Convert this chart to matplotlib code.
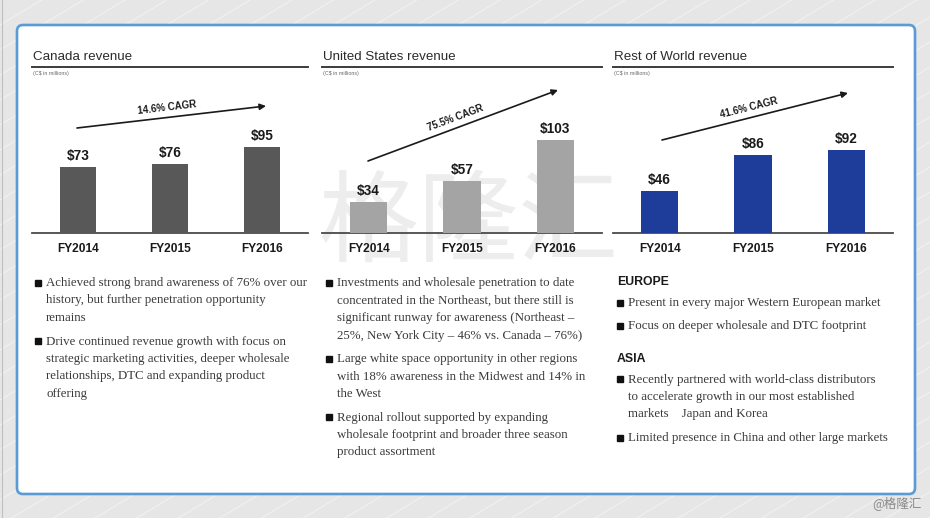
import matplotlib.pyplot as plt
import numpy as np
from matplotlib.patches import FancyBboxPatch

plt.rcParams['font.family'] = ['Liberation Sans', 'DejaVu Sans']

# data
years = ["FY2014", "FY2015", "FY2016"]
canada_revenue = [73, 76, 95]
us_revenue = [34, 57, 103]
row_revenue = [46, 86, 92]

titles = ["Canada revenue", "United States revenue", "Rest of World revenue"]
cagr_labels = ["14.6% CAGR", "75.5% CAGR", "41.6% CAGR"]
unit_note = "(C$ in millions)"

canada_bullets = [
    ["Achieved strong brand awareness of 76% over our",
     "history, but further penetration opportunity",
     "remains"],
    ["Drive continued revenue growth with focus on",
     "strategic marketing activities, deeper wholesale",
     "relationships, DTC and expanding product",
     "offering"],
]
us_bullets = [
    ["Investments and wholesale penetration to date",
     "concentrated in the Northeast, but there still is",
     "significant runway for awareness (Northeast –",
     "25%, New York City – 46% vs. Canada – 76%)"],
    ["Large white space opportunity in other regions",
     "with 18% awareness in the Midwest and 14% in",
     "the West"],
    ["Regional rollout supported by expanding",
     "wholesale footprint and broader three season",
     "product assortment"],
]
row_sections = [
    ("EUROPE", [
        ["Present in every major Western European market"],
        ["Focus on deeper wholesale and DTC footprint"],
    ]),
    ("ASIA", [
        ["Recently partnered with world-class distributors",
         "to accelerate growth in our most established",
         "markets    Japan and Korea"],
        ["Limited presence in China and other large markets"],
    ]),
]

# layout (pixels)
W, H = 930, 518
PANEL_X = [(32, 308), (322, 602), (613, 893)]
BASE_Y = 233
TOP_Y = 80
PX_PER_UNIT = 0.905
BAR_COLORS = ["#585858", "#a4a4a4", "#1e3d9b"]
ARROWS = [((77, 128), (266, 106)), ((368, 161), (558, 90)), ((662, 140), (848, 93))]
LINE_STEP = 17.5
BULLET_GAP = 23.5
SERIF = ['Liberation Serif', 'DejaVu Serif']


def fx(x):
    return x / W


def fy(y):
    return 1 - y / H


def draw_bullets(ax, x, y, groups):
    # y is the visual middle of the first line
    for i, lines in enumerate(groups):
        if i > 0:
            y += BULLET_GAP - LINE_STEP
        ax.plot([x - 8], [y + 0.5], marker='s', markersize=4.2,
                color="#111111", zorder=5)
        for line in lines:
            ax.text(x, y + 4, line, fontsize=9.3, color="#3a3a3a",
                    family=SERIF, va='baseline', zorder=5)
            y += LINE_STEP
    return y - LINE_STEP


fig = plt.figure(figsize=(W / 100, H / 100), dpi=100)
bg = fig.add_axes([0, 0, 1, 1])
bg.set_xlim(0, W)
bg.set_ylim(H, 0)
bg.axis('off')

# grey striped backdrop
bg.add_patch(plt.Rectangle((0, 0), W, H, color="#e6e6e6", zorder=0))
xs = np.array([0, W])
for c in range(0, W + 700, 25):
    bg.plot(xs, c - 0.6 * xs, color="white", lw=0.7, alpha=0.5, zorder=1)
bg.plot([2, 2], [0, H], color="#c0c0c0", lw=0.8, zorder=1)

# slide
slide = FancyBboxPatch((17, 25), 898, 469, boxstyle="round,pad=0,rounding_size=6",
                       fc="white", ec="#5b9bd5", lw=1.9, zorder=2)
bg.add_patch(slide)

# watermark
bg.text(468, 225, "格隆汇", fontsize=72, color="#ededed",
        family=['Noto Sans CJK SC'], ha='center', va='center', zorder=2.5)
bg.text(922, 503, "@格隆汇", fontsize=9, color="#8a8a8a",
        family=['Noto Sans CJK SC', 'DejaVu Sans'], ha='right', va='center', zorder=3)

panel_values = [canada_revenue, us_revenue, row_revenue]

for i, (x0, x1) in enumerate(PANEL_X):
    # heading
    bg.text(x0 + 1, 60, titles[i], fontsize=9.6, color="#2b2b2b",
            va='baseline', zorder=5)
    bg.plot([x0, x1], [66.5, 66.5], color="#3c3c3c", lw=1.4, zorder=5)
    bg.text(x0 + 1, 74, unit_note, fontsize=3.8, color="#666666",
            va='center', zorder=5)

    # CAGR arrow
    (ax0, ay0), (ax1, ay1) = ARROWS[i]
    bg.annotate("", xy=(ax1, ay1), xytext=(ax0, ay0),
                arrowprops=dict(arrowstyle='-|>', lw=1.2, color="#1a1a1a",
                                mutation_scale=9, shrinkA=0, shrinkB=0),
                zorder=5)
    ang = np.degrees(np.arctan2(ay0 - ay1, ax1 - ax0))
    mx = ax0 + 0.48 * (ax1 - ax0)
    my = ay0 + 0.48 * (ay1 - ay0)
    nx, ny = np.sin(np.radians(ang)), np.cos(np.radians(ang))
    bg.text(mx - 10 * nx, my - 10 * ny, cagr_labels[i], fontsize=7,
            fontweight='bold', color="#1a1a1a", rotation=ang,
            rotation_mode='anchor', ha='center', va='center', zorder=5)

    # bars
    ax = fig.add_axes([fx(x0), fy(BASE_Y), (x1 - x0) / W, (BASE_Y - TOP_Y) / H])
    ax.patch.set_alpha(0)
    values = panel_values[i]
    bars = ax.bar(range(len(years)), values, width=0.4, color=BAR_COLORS[i], zorder=3)
    ax.bar_label(bars, labels=[f"${v}" for v in values], padding=3,
                 fontsize=9.8, fontweight='bold', color="#1a1a1a")
    ax.set_xlim(-0.5, 2.5)
    ax.set_ylim(0, (BASE_Y - TOP_Y) / PX_PER_UNIT)
    ax.set_xticks(range(len(years)), years, fontsize=8.6, fontweight='bold',
                  color="#1a1a1a")
    ax.tick_params(axis='x', length=0, pad=7)
    ax.set_yticks([])
    for side in ['top', 'left', 'right']:
        ax.spines[side].set_visible(False)
    ax.spines['bottom'].set_color("#4a4a4a")
    ax.spines['bottom'].set_linewidth(1.3)

# bullet text
draw_bullets(bg, 46, 282, canada_bullets)
draw_bullets(bg, 337, 282, us_bullets)

y = 281
for k, (heading, groups) in enumerate(row_sections):
    bg.text(617, y + 4, heading, fontsize=8.8, fontweight='bold',
            color="#1a1a1a", va='baseline', zorder=5)
    y = draw_bullets(bg, 628, y + 21, groups)
    y += 32

fig.savefig("out.png", dpi=100)
